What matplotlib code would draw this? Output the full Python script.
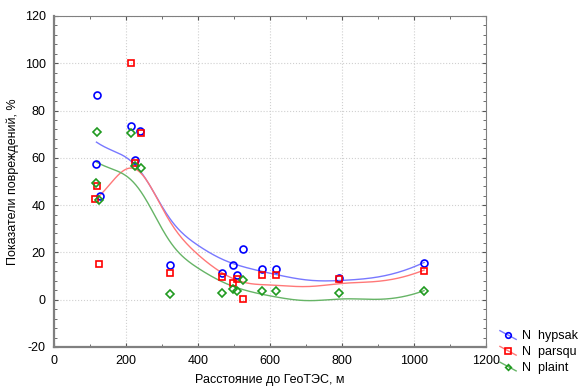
import numpy as np
import matplotlib.pyplot as plt
from matplotlib.legend_handler import HandlerBase
from matplotlib.lines import Line2D
from matplotlib import ticker

plt.rcParams["font.family"] = ["Liberation Sans", "DejaVu Sans"]
plt.rcParams["font.size"] = 9
plt.rcParams["axes.unicode_minus"] = False

# distance to the plant, m (same sites for all three species)
x_hyp = [120, 118, 128, 214, 224, 240, 322, 467, 498, 509, 525, 579, 617, 793, 1028]
y_hyp = [86.6, 57.5, 44.0, 73.5, 58.9, 71.5, 14.5, 11.4, 14.8, 10.4, 21.4, 13.1, 13.1, 9.0, 15.6]

x_par = [214, 241, 224, 120, 115, 126, 322, 467, 496, 509, 525, 579, 617, 793, 1028]
y_par = [100.3, 70.3, 57.7, 48.2, 42.8, 15.1, 11.4, 9.6, 6.9, 8.7, 0.3, 10.4, 10.4, 8.9, 12.3]

x_pla = [120, 214, 118, 224, 241, 126, 322, 467, 498, 509, 525, 579, 617, 793, 1028]
y_pla = [71.0, 70.3, 49.2, 56.5, 55.6, 42.3, 2.5, 2.7, 4.6, 3.7, 8.2, 3.7, 3.7, 2.8, 3.5]

LABELS = ["N  hypsak", "N  parsqu", "N  plaint"]
BANDWIDTH = 100.0


def dwls(x, y, h=BANDWIDTH, n=250):
    # distance weighted least squares: local quadratic, inverse-distance weights
    x = np.asarray(x, float)
    y = np.asarray(y, float)
    grid = np.linspace(x.min(), x.max(), n)
    out = []
    for g in grid:
        w = 1.0 / (1 + ((x - g) / h) ** 2)
        c = np.polyfit(x - g, y, 2, w=np.sqrt(w))
        out.append(c[-1])
    return grid, np.array(out)


class SlantHandler(HandlerBase):
    def create_artists(self, legend, orig, xdescent, ydescent, width, height, fontsize, trans):
        x0, x1 = -xdescent, -xdescent + width
        y0, y1 = -ydescent + height, -ydescent
        ln = Line2D([x0, x1], [y0, y1], color=orig.get_color(), lw=1, transform=trans)
        mk = Line2D([(x0 + x1) / 2], [(y0 + y1) / 2], ls="none", marker=orig.get_marker(),
                    markersize=orig.get_markersize() * 0.8, markerfacecolor="none",
                    markeredgecolor=orig.get_markeredgecolor(), markeredgewidth=1.2, transform=trans)
        return [ln, mk]


fig = plt.figure(figsize=(5.78, 3.87), dpi=100)
ax = fig.add_axes([0.0934, 0.1034, 0.7474, 0.8553])

series = [
    (x_hyp, y_hyp, "o", "#0000ff", "#7878ff", 5),
    (x_par, y_par, "s", "#ff0000", "#ff7878", 5),
    (x_pla, y_pla, "D", "#1f9a1f", "#66b466", 3.6),
]
handles = []
for (xs, ys, mk, col, lcol, ms), lab in zip(series, LABELS):
    gx, gy = dwls(xs, ys)
    ax.plot(gx, gy, color=lcol, lw=1.0, zorder=2)
    ax.plot(xs, ys, ls="none", marker=mk, markersize=ms,
            markerfacecolor="none", markeredgecolor=col, markeredgewidth=1.2, zorder=3)
    handles.append(Line2D([], [], color=lcol, marker=mk, markersize=ms, markeredgecolor=col))

ax.set_xlim(0, 1200)
ax.set_ylim(-20, 120)
ax.xaxis.set_major_locator(ticker.MultipleLocator(200))
ax.xaxis.set_minor_locator(ticker.MultipleLocator(100))
ax.yaxis.set_major_locator(ticker.MultipleLocator(20))
ax.yaxis.set_minor_locator(ticker.MultipleLocator(4))
ax.tick_params(which="both", direction="in", top=True, right=True, color="#555555")
ax.tick_params(which="major", length=3, labelsize=9, pad=6)
ax.tick_params(which="minor", length=2)
ax.grid(True, which="major", ls=":", color="#d0d0d0", lw=0.8)
ax.set_axisbelow(True)
for side in ["top", "right"]:
    ax.spines[side].set_color("#808080")
    ax.spines[side].set_linewidth(0.8)
for side in ["left", "bottom"]:
    ax.spines[side].set_color("#808080")
    ax.spines[side].set_linewidth(1.6)

ax.set_xlabel("Расстояние до ГеоТЭС, м", fontsize=9, labelpad=5)
ax.set_ylabel("Показатели повреждений, %", fontsize=9, labelpad=4)

fig.legend(handles, LABELS, handler_map={Line2D: SlantHandler()}, loc="lower right",
           bbox_to_anchor=(1.018, 0.008), frameon=False, fontsize=9, handlelength=1.3,
           handletextpad=0.5, labelspacing=0.3, borderpad=0.3)

fig.savefig("out.png", dpi=100)
